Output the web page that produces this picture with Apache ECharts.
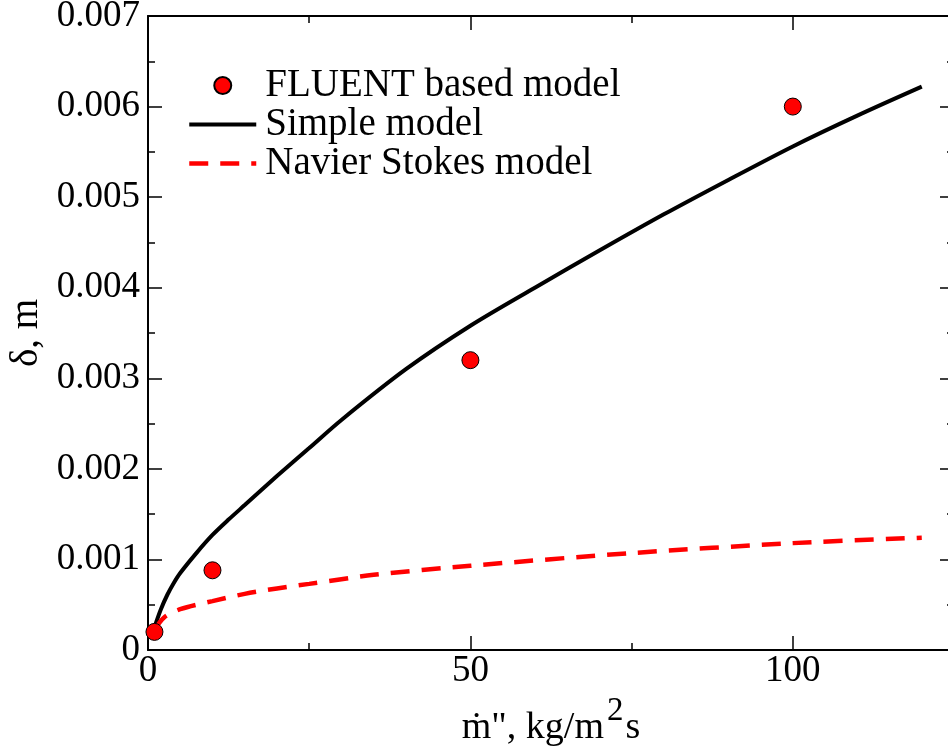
<!DOCTYPE html>
<html>
<head>
<meta charset="utf-8">
<script src="https://cdn.jsdelivr.net/npm/echarts@6/dist/echarts.min.js"></script>
<style>
html,body{margin:0;padding:0;background:#fff;}
#chart{width:948px;height:748px;}
</style>
</head>
<body>
<div id="chart"></div>
<script>
// FLUENT based model (scatter)
var fluentX = [1, 10, 50, 100];
var fluentY = [0.0002, 0.00088, 0.0032, 0.006];
// Simple model (solid black)
var simpleX = [1, 2, 3, 4, 5, 7.5, 10, 12.5, 15, 20, 25, 30, 40, 50, 60, 70, 80, 90, 100, 110, 120];
var simpleY = [0.00025, 0.00045, 0.00061, 0.00074, 0.00085, 0.00107, 0.00127, 0.00144, 0.0016, 0.00192, 0.00223, 0.00254, 0.0031, 0.00358, 0.004, 0.00441, 0.00481, 0.00519, 0.00556, 0.0059, 0.00622];
// Navier Stokes model (dashed red)
var nsX = [1, 2.5, 5, 10, 15, 20, 25, 35, 50, 75, 100, 120];
var nsY = [0.00022, 0.00036, 0.00045, 0.00054, 0.00062, 0.00068, 0.00073, 0.00083, 0.00093, 0.00107, 0.00118, 0.00124];
// axis ticks
var xTicks = [0, 50, 100];
var yTicks = [0, 0.001, 0.002, 0.003, 0.004, 0.005, 0.006, 0.007];

function pairs(xs, ys){ return xs.map(function(x,i){ return [x, ys[i]]; }); }

var FONT = "'Liberation Serif', 'DejaVu Serif', serif";
var chart = echarts.init(document.getElementById('chart'), null, {renderer:'canvas'});

function axisLine(){ return {show:true, onZero:false, lineStyle:{color:'#000', width:2}}; }
function tick(){ return {show:true, inside:true, length:14, lineStyle:{color:'#000', width:1.5}}; }
function minorTick(){ return {show:true, splitNumber:2, length:7, lineStyle:{color:'#000', width:1.5}}; }

chart.setOption({
  animation:false,
  backgroundColor:'#fff',
  grid:{left:148, right:-6, top:16, bottom:98, containLabel:false, outerBoundsMode:'none'},
  legend:{
    show:true, orient:'vertical', left:182, top:61,
    itemWidth:67, itemHeight:17, itemGap:0,
    lineStyle:{width:'inherit'},
    textStyle:{fontFamily:FONT, fontSize:39, color:'#000', lineHeight:38.5, padding:[0,0,0,4]},
    data:['FLUENT based model','Simple model','Navier Stokes model']
  },
  xAxis:[{
    type:'value', min:0, max:125, interval:50, position:'bottom',
    axisLine:axisLine(), axisTick:tick(), minorTick:minorTick(), splitLine:{show:false},
    axisLabel:{show:true, fontFamily:FONT, fontSize:37, color:'#000', margin:3,
      formatter:function(v){ return xTicks.indexOf(v)>=0 ? String(v) : ''; }},
    name:'{a|ṁ", kg/m}{s|2}{a|s}', nameLocation:'middle', nameGap:36,
    nameTextStyle:{rich:{
      a:{fontFamily:FONT, fontSize:38, color:'#000', lineHeight:52, verticalAlign:'bottom'},
      s:{fontFamily:FONT, fontSize:33, color:'#000', lineHeight:34, verticalAlign:'top', padding:[0,2,0,3]}
    }}
  },{
    type:'value', min:0, max:125, interval:50, position:'top',
    axisLine:axisLine(), axisTick:tick(), minorTick:minorTick(), splitLine:{show:false},
    axisLabel:{show:false}
  }],
  yAxis:[{
    type:'value', min:0, max:0.007, interval:0.001, position:'left',
    axisLine:axisLine(), axisTick:tick(), minorTick:minorTick(), splitLine:{show:false},
    axisLabel:{show:true, fontFamily:FONT, fontSize:37, color:'#000', margin:8,
      formatter:function(v){
        for (var i=0;i<yTicks.length;i++){ if (Math.abs(v-yTicks[i])<1e-9) return String(yTicks[i]); }
        return '';
      }},
    name:'δ, m', nameLocation:'middle', nameGap:100, nameRotate:90,
    nameTextStyle:{fontFamily:FONT, fontSize:39, color:'#000'}
  },{
    type:'value', min:0, max:0.007, interval:0.001, position:'right',
    axisLine:axisLine(), axisTick:tick(), minorTick:minorTick(), splitLine:{show:false},
    axisLabel:{show:false}
  }],
  series:[{
    name:'FLUENT based model', type:'scatter', xAxisIndex:0, yAxisIndex:0, z:5,
    symbol:'circle', symbolSize:17,
    itemStyle:{color:'#ff0000', borderColor:'#000', borderWidth:1, opacity:1},
    data:pairs(fluentX, fluentY)
  },{
    name:'Simple model', type:'line', xAxisIndex:0, yAxisIndex:0, z:3,
    showSymbol:false, symbol:'none', smooth:0.3,
    itemStyle:{color:'rgba(0,0,0,0)', borderWidth:0},
    lineStyle:{color:'#000', width:4},
    data:pairs(simpleX, simpleY)
  },{
    name:'Navier Stokes model', type:'line', xAxisIndex:0, yAxisIndex:0, z:3,
    showSymbol:false, symbol:'none', smooth:0.3,
    itemStyle:{color:'rgba(0,0,0,0)', borderWidth:0},
    lineStyle:{color:'#ff0000', width:4.5, type:[19,12]},
    data:pairs(nsX, nsY)
  }]
});
</script>
</body>
</html>
